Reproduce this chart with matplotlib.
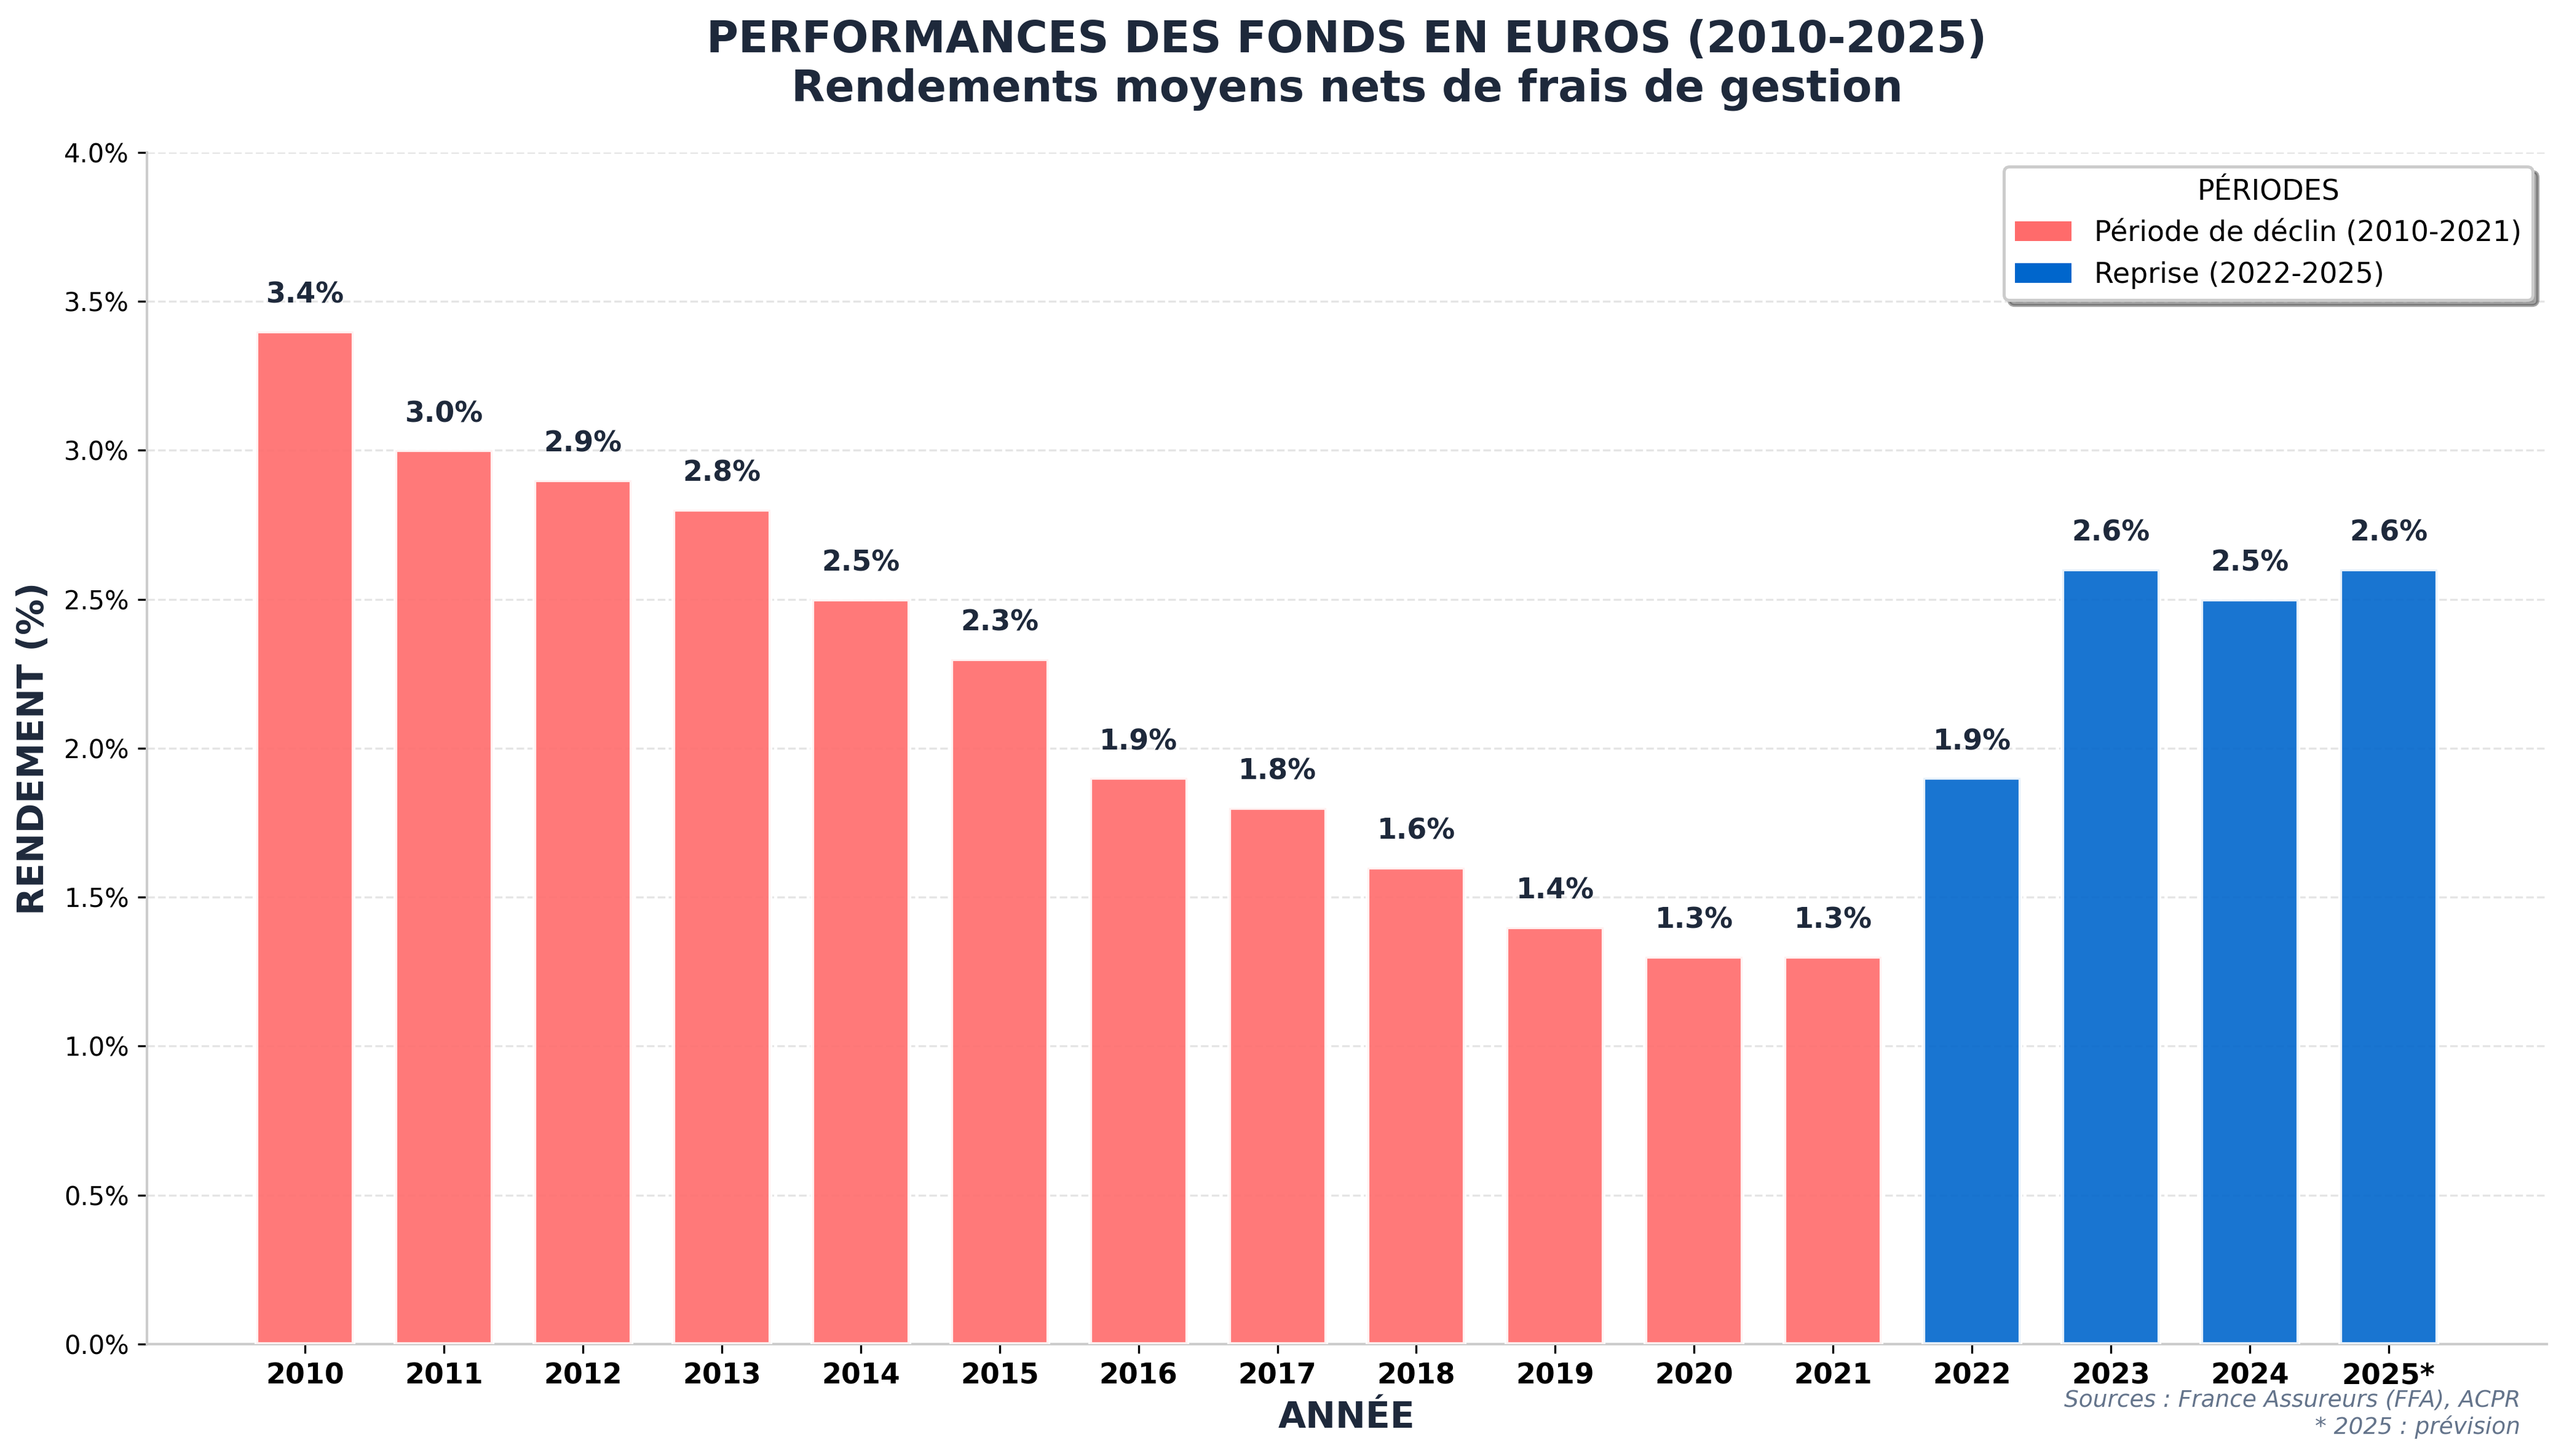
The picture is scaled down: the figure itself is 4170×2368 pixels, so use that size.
import matplotlib
matplotlib.use("Agg")
import matplotlib.pyplot as plt
from matplotlib.patches import Patch

# Data
annees = ["2010", "2011", "2012", "2013", "2014", "2015", "2016", "2017",
          "2018", "2019", "2020", "2021", "2022", "2023", "2024", "2025*"]
rendements = [3.4, 3.0, 2.9, 2.8, 2.5, 2.3, 1.9, 1.8,
              1.6, 1.4, 1.3, 1.3, 1.9, 2.6, 2.5, 2.6]
periodes = ["declin"] * 12 + ["reprise"] * 4

couleurs_periode = {"declin": "#FF6B6B", "reprise": "#0066CC"}
noms_periode = {"declin": "Période de déclin (2010-2021)",
                "reprise": "Reprise (2022-2025)"}

texte_fonce = "#1E293B"

fig = plt.figure(figsize=(4170 / 300, 2368 / 300), dpi=300)
ax = fig.add_axes([0.0573, 0.0769, 0.9360, 0.8184])

x = list(range(len(annees)))
couleurs = [couleurs_periode[p] for p in periodes]

bars = ax.bar(x, rendements, width=0.7, color=couleurs, alpha=0.9,
              edgecolor="white", linewidth=1.5, zorder=3)

# Value labels
for b, v in zip(bars, rendements):
    ax.text(b.get_x() + b.get_width() / 2, v + 0.075, f"{v:.1f}%",
            ha="center", va="bottom", fontsize=11, fontweight="bold",
            color=texte_fonce)

ax.set_xticks(x)
ax.set_xticklabels(annees, fontsize=11, fontweight="bold")
ax.set_xlim(-1.14, 16.14)
ax.set_ylim(0, 4.0)
ax.set_yticks([0, 0.5, 1.0, 1.5, 2.0, 2.5, 3.0, 3.5, 4.0])
ax.set_yticklabels([f"{t:.1f}%" for t in ax.get_yticks()], fontsize=10)

ax.set_xlabel("ANNÉE", fontsize=14, fontweight="bold", color=texte_fonce,
              labelpad=4)
ax.set_ylabel("RENDEMENT (%)", fontsize=14, fontweight="bold",
              color=texte_fonce, labelpad=5)
ax.set_title("PERFORMANCES DES FONDS EN EUROS (2010-2025)\n"
             "Rendements moyens nets de frais de gestion",
             fontsize=17, fontweight="bold", color=texte_fonce, pad=20)

ax.grid(axis="y", linestyle="--", color="#cccccc", alpha=0.5, zorder=0)
ax.set_axisbelow(True)

for s in ["top", "right"]:
    ax.spines[s].set_visible(False)
for s in ["left", "bottom"]:
    ax.spines[s].set_color("#cccccc")
    ax.spines[s].set_linewidth(1.0)

handles = [Patch(facecolor=couleurs_periode[k], label=noms_periode[k])
           for k in ["declin", "reprise"]]
leg = ax.legend(handles=handles, title="PÉRIODES", loc="upper right",
                fontsize=11, title_fontsize=11, frameon=True, fancybox=True,
                shadow=True, framealpha=1.0)
leg.get_frame().set_edgecolor("#cccccc")
leg.get_frame().set_linewidth(1.2)

fig.text(0.983, 0.012, "Sources : France Assureurs (FFA), ACPR\n* 2025 : prévision",
         ha="right", va="bottom", fontsize=9, style="italic", color="#64748B")

fig.savefig("out.png", dpi=300)
